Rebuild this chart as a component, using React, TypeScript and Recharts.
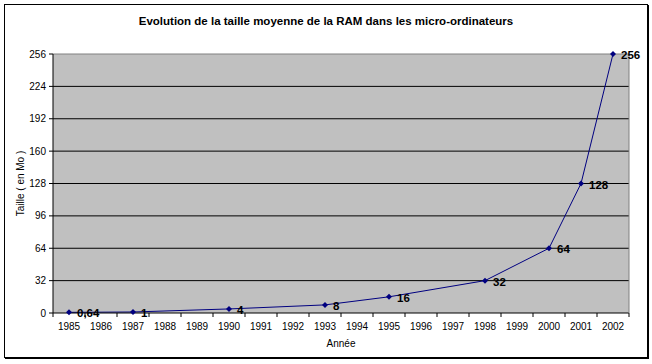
import React from 'react';
import {
  LineChart, Line, XAxis, YAxis, CartesianGrid, ReferenceLine, LabelList,
} from 'recharts';

// années (axe des catégories) et taille moyenne de la RAM en Mo
const years = [
  '1985', '1986', '1987', '1988', '1989', '1990', '1991', '1992', '1993',
  '1994', '1995', '1996', '1997', '1998', '1999', '2000', '2001', '2002',
];
const ramYears = ['1985', '1987', '1990', '1993', '1995', '1998', '2000', '2001', '2002'];
const ramValues = [0.64, 1, 4, 8, 16, 32, 64, 128, 256];
const yTicks = [0, 32, 64, 96, 128, 160, 192, 224, 256];
const gridValues = [32, 64, 96, 128, 160, 192, 224];

const FONT = '"Liberation Sans", Arial, sans-serif';
const HALF_STEP = 16;

const data = years.map((year) => {
  const i = ramYears.indexOf(year);
  return { year, ram: i >= 0 ? ramValues[i] : null };
});

const YearTick = (props: any) => {
  const { x, y, payload, index } = props;
  const last = index === years.length - 1;
  return (
    <g>
      <line x1={x - HALF_STEP} x2={x - HALF_STEP} y1={y - 4} y2={y} stroke="#000" />
      {last && <line x1={x + HALF_STEP} x2={x + HALF_STEP} y1={y - 4} y2={y} stroke="#000" />}
      <text x={x} y={y} dy={12.5} textAnchor="middle" fontSize={10} fontFamily={FONT} fill="#000">
        {payload.value}
      </text>
    </g>
  );
};

const Diamond = (props: any) => {
  const { cx, cy, value } = props;
  if (value == null || cx == null || cy == null) return <g />;
  const r = 3;
  return <path d={`M${cx},${cy - r}L${cx + r},${cy}L${cx},${cy + r}L${cx - r},${cy}Z`} fill="#000080" />;
};

const ValueLabel = (props: any) => {
  const { x, y, value } = props;
  if (value == null) return null;
  return (
    <text x={x + 8} y={y + 1} dominantBaseline="central" fontSize={11.5} fontWeight="bold" fontFamily={FONT} fill="#000">
      {String(value).replace('.', ',')}
    </text>
  );
};

export default function App() {
  return (
    <div style={{ position: 'fixed', left: 0, top: 0, width: 652, height: 364, background: '#fff' }}>
      <div style={{
        position: 'absolute', left: 4, top: 4, width: 642, height: 352,
        border: '1px solid #000', boxShadow: '1px 1px 0 #000',
      }} />
      <div style={{
        position: 'absolute', left: 0, top: 15, width: 652, textAlign: 'center',
        fontFamily: FONT, fontSize: 11.5, fontWeight: 'bold', color: '#000',
      }}>
        Evolution de la taille moyenne de la RAM dans les micro-ordinateurs
      </div>
      <div style={{ position: 'absolute', left: 0, top: 0 }}>
        <LineChart width={652} height={364} data={data} margin={{ top: 54, right: 22, left: 13, bottom: 21 }}>
          <CartesianGrid fill="#c0c0c0" stroke="#000" vertical={false} horizontalValues={gridValues} />
          <XAxis
            dataKey="year"
            type="category"
            interval={0}
            padding={{ left: HALF_STEP, right: HALF_STEP }}
            axisLine={{ stroke: '#000' }}
            tickLine={false}
            tickSize={4}
            tickMargin={0}
            height={30}
            tick={<YearTick />}
            label={({ viewBox }: any) => (
              <text x={viewBox.x + viewBox.width / 2} y={viewBox.y + 34} textAnchor="middle" fontSize={10} fontFamily={FONT} fill="#000">
                Année
              </text>
            )}
          />
          <YAxis
            domain={[0, 256]}
            ticks={yTicks}
            interval={0}
            width={40}
            axisLine={{ stroke: '#000' }}
            tickLine={{ stroke: '#000' }}
            tickSize={4}
            tickMargin={3}
            tick={{ fontSize: 10, fontFamily: FONT, fill: '#000' }}
            label={({ viewBox }: any) => {
              const cx = viewBox.x + 7;
              const cy = viewBox.y + viewBox.height / 2;
              return (
                <text x={cx} y={cy} transform={`rotate(-90 ${cx} ${cy})`} textAnchor="middle" dominantBaseline="central" fontSize={10} fontFamily={FONT} fill="#000">
                  Taille ( en Mo )
                </text>
              );
            }}
          />
          <YAxis yAxisId="frame" orientation="right" domain={[0, 256]} width={1} tick={false} tickLine={false} axisLine={{ stroke: '#808080' }} />
          <ReferenceLine y={256} stroke="#808080" />
          <Line
            type="linear"
            dataKey="ram"
            connectNulls
            stroke="#000080"
            strokeWidth={1}
            dot={<Diamond />}
            activeDot={false}
            isAnimationActive={false}
          >
            <LabelList dataKey="ram" content={<ValueLabel />} />
          </Line>
        </LineChart>
      </div>
    </div>
  );
}
